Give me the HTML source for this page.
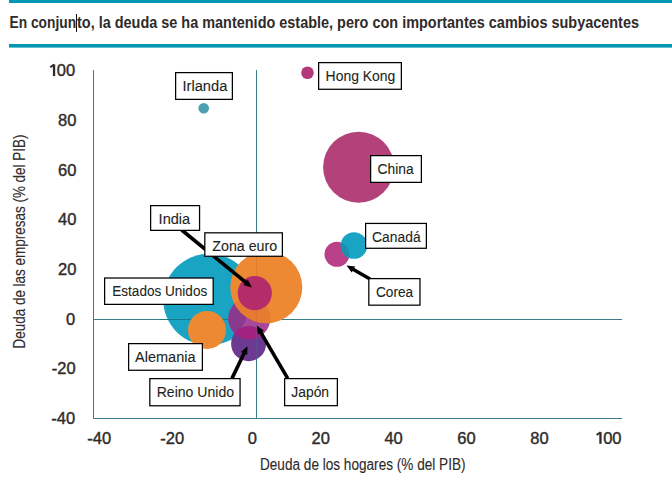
<!DOCTYPE html>
<html><head><meta charset="utf-8"><style>
html,body{margin:0;padding:0;background:#fff;width:672px;height:481px;overflow:hidden}
svg{display:block;font-family:"Liberation Sans", sans-serif}
</style></head><body>
<svg width="672" height="481" viewBox="0 0 672 481">
<rect x="9" y="0" width="663" height="3" fill="#0098b2"/>
<rect x="9" y="44" width="663" height="3.6" fill="#0098b2"/>
<text x="9.5" y="27.7" font-size="17" font-weight="bold" fill="#2f2b2a" textLength="66.6" lengthAdjust="spacingAndGlyphs">En conjun</text>
<text x="77.0" y="27.7" font-size="17" font-weight="bold" fill="#2f2b2a" textLength="562" lengthAdjust="spacingAndGlyphs">to, la deuda se ha mantenido estable, pero con importantes cambios subyacentes</text>
<rect x="76" y="14" width="1" height="18" fill="#111"/>
<g stroke="#3b7d88" stroke-width="1" fill="none" shape-rendering="crispEdges"><line x1="93.5" y1="70" x2="93.5" y2="419"/><line x1="93" y1="418.5" x2="622" y2="418.5"/><line x1="93" y1="319.5" x2="622" y2="319.5"/><line x1="256.5" y1="70" x2="256.5" y2="419"/></g>
<text x="75.1" y="76.10" font-size="16.5" fill="#2f2b2a" stroke="#2f2b2a" stroke-width="0.4" text-anchor="end">00</text>
<rect x="52.90" y="64.40" width="2.3" height="11.7" fill="#2f2b2a"/>
<line x1="50.20" y1="67.30" x2="54.10" y2="64.60" stroke="#2f2b2a" stroke-width="2"/>
<text x="76.4" y="125.80" font-size="16.5" fill="#2f2b2a" stroke="#2f2b2a" stroke-width="0.4" text-anchor="end">80</text>
<text x="76.4" y="175.50" font-size="16.5" fill="#2f2b2a" stroke="#2f2b2a" stroke-width="0.4" text-anchor="end">60</text>
<text x="76.4" y="225.20" font-size="16.5" fill="#2f2b2a" stroke="#2f2b2a" stroke-width="0.4" text-anchor="end">40</text>
<text x="76.4" y="274.90" font-size="16.5" fill="#2f2b2a" stroke="#2f2b2a" stroke-width="0.4" text-anchor="end">20</text>
<text x="75.1" y="324.60" font-size="16.5" fill="#2f2b2a" stroke="#2f2b2a" stroke-width="0.4" text-anchor="end">0</text>
<text x="75.6" y="374.30" font-size="16.5" fill="#2f2b2a" stroke="#2f2b2a" stroke-width="0.4" text-anchor="end">-20</text>
<text x="75.1" y="424.00" font-size="16.5" fill="#2f2b2a" stroke="#2f2b2a" stroke-width="0.4" text-anchor="end">-40</text>
<text x="111.20" y="443.8" font-size="16.5" fill="#2f2b2a" stroke="#2f2b2a" stroke-width="0.4" text-anchor="end">-40</text>
<text x="184.10" y="443.8" font-size="16.5" fill="#2f2b2a" stroke="#2f2b2a" stroke-width="0.4" text-anchor="end">-20</text>
<text x="257.00" y="443.8" font-size="16.5" fill="#2f2b2a" stroke="#2f2b2a" stroke-width="0.4" text-anchor="end">0</text>
<text x="329.90" y="443.8" font-size="16.5" fill="#2f2b2a" stroke="#2f2b2a" stroke-width="0.4" text-anchor="end">20</text>
<text x="402.80" y="443.8" font-size="16.5" fill="#2f2b2a" stroke="#2f2b2a" stroke-width="0.4" text-anchor="end">40</text>
<text x="475.70" y="443.8" font-size="16.5" fill="#2f2b2a" stroke="#2f2b2a" stroke-width="0.4" text-anchor="end">60</text>
<text x="548.60" y="443.8" font-size="16.5" fill="#2f2b2a" stroke="#2f2b2a" stroke-width="0.4" text-anchor="end">80</text>
<text x="621.50" y="443.8" font-size="16.5" fill="#2f2b2a" stroke="#2f2b2a" stroke-width="0.4" text-anchor="end">00</text>
<rect x="599.30" y="432.10" width="2.3" height="11.7" fill="#2f2b2a"/>
<line x1="596.60" y1="435.00" x2="600.50" y2="432.30" stroke="#2f2b2a" stroke-width="2"/>
<text x="260" y="469.6" font-size="15.8" fill="#2f2b2a" stroke="#2f2b2a" stroke-width="0.12" textLength="205.5" lengthAdjust="spacingAndGlyphs">Deuda de los hogares (% del PIB)</text>
<text transform="translate(25,348.5) rotate(-90)" x="0" y="0" font-size="15.8" fill="#2f2b2a" stroke="#2f2b2a" stroke-width="0.12" textLength="214" lengthAdjust="spacingAndGlyphs">Deuda de las empresas (% del PIB)</text>
<circle cx="203.7" cy="108.2" r="5.3" fill="#4ba0b2" fill-opacity="1"/>
<circle cx="307.5" cy="72.7" r="6.3" fill="#b23a7a" fill-opacity="1"/>
<circle cx="358.6" cy="167.2" r="35.5" fill="#b3427a" fill-opacity="1"/>
<circle cx="337" cy="254.3" r="12.5" fill="#b8418a" fill-opacity="1"/>
<circle cx="354" cy="245.5" r="13.3" fill="#1aa4c4" fill-opacity="1"/>
<circle cx="209" cy="299.5" r="45.8" fill="#1aa4c4" fill-opacity="1"/>
<defs><clipPath id="cKO"><circle cx="337" cy="254.3" r="12.5"/></clipPath></defs>
<circle cx="354" cy="245.5" r="13.3" fill="#1d8fae" clip-path="url(#cKO)"/>
<line x1="160" y1="319.5" x2="232" y2="319.5" stroke="#17788c" stroke-width="1" shape-rendering="crispEdges"/>
<defs><clipPath id="cUS"><circle cx="205" cy="301" r="45"/></clipPath><clipPath id="cRU"><circle cx="248.6" cy="343.7" r="17.5"/></clipPath><clipPath id="cJP"><circle cx="249.3" cy="318.5" r="21"/></clipPath></defs>
<circle cx="249.3" cy="318.5" r="21" fill="#a8489a"/>
<circle cx="249.3" cy="318.5" r="21" fill="#8a3a8d" clip-path="url(#cUS)"/>
<circle cx="266.3" cy="287.2" r="36" fill="#ee8933"/>
<circle cx="249.3" cy="318.5" r="21" fill="#d8652e" fill-opacity="0.35" clip-path="url(#cZE)"/>
<defs><clipPath id="cZE"><circle cx="266.3" cy="287.2" r="36"/></clipPath></defs>
<line x1="256.5" y1="256" x2="256.5" y2="322" stroke="#c96a2a" stroke-width="1" stroke-opacity="0.4" shape-rendering="crispEdges"/>
<circle cx="207" cy="330" r="19" fill="#ee8933"/>
<circle cx="254.8" cy="293.1" r="17.1" fill="#b52c6a"/>
<circle cx="248.6" cy="343.7" r="17.5" fill="#6d3a93"/>
<circle cx="249.3" cy="318.5" r="21" fill="#a2237f" clip-path="url(#cRU)"/>
<line x1="256.5" y1="326" x2="256.5" y2="362" stroke="#3b7d88" stroke-width="1" stroke-opacity="0.25" shape-rendering="crispEdges"/>
<line x1="181.7" y1="230" x2="246.38" y2="282.97" stroke="#000" stroke-width="3.6"/>
<polygon points="251.8,287.4 243.39,285.04 247.83,279.62" fill="#000"/>
<line x1="370" y1="279" x2="352.57" y2="268.99" stroke="#000" stroke-width="3.6"/>
<polygon points="346.5,265.5 355.18,266.45 351.69,272.52" fill="#000"/>
<line x1="232" y1="378.4" x2="244.46" y2="352.51" stroke="#000" stroke-width="3.6"/>
<polygon points="247.5,346.2 247.18,354.93 240.88,351.89" fill="#000"/>
<line x1="287.7" y1="378.4" x2="260.34" y2="331.64" stroke="#000" stroke-width="3.6"/>
<polygon points="256.8,325.6 263.86,330.74 257.82,334.27" fill="#000"/>
<rect x="175.62" y="72.62" width="56.75" height="26.75" fill="#fff" stroke="#000" stroke-width="1.25"/>
<text x="182.50" y="90.7" font-size="15.2" fill="#231f20" stroke="#231f20" stroke-width="0.1" textLength="44.80" lengthAdjust="spacingAndGlyphs">Irlanda</text>
<rect x="318.62" y="62.62" width="82.75" height="26.65" fill="#fff" stroke="#000" stroke-width="1.25"/>
<text x="325.60" y="81.0" font-size="15.2" fill="#231f20" stroke="#231f20" stroke-width="0.1" textLength="69.70" lengthAdjust="spacingAndGlyphs">Hong Kong</text>
<rect x="370.62" y="155.62" width="50.75" height="26.75" fill="#fff" stroke="#000" stroke-width="1.25"/>
<text x="377.60" y="173.8" font-size="15.2" fill="#231f20" stroke="#231f20" stroke-width="0.1" textLength="36.10" lengthAdjust="spacingAndGlyphs">China</text>
<rect x="365.62" y="223.43" width="60.75" height="24.85" fill="#fff" stroke="#000" stroke-width="1.25"/>
<text x="372.10" y="241.8" font-size="15.2" fill="#231f20" stroke="#231f20" stroke-width="0.1" textLength="48.50" lengthAdjust="spacingAndGlyphs">Canadá</text>
<rect x="368.82" y="278.62" width="51.15" height="26.55" fill="#fff" stroke="#000" stroke-width="1.25"/>
<text x="376.00" y="296.9" font-size="15.2" fill="#231f20" stroke="#231f20" stroke-width="0.1" textLength="37.20" lengthAdjust="spacingAndGlyphs">Corea</text>
<rect x="150.62" y="205.62" width="48.95" height="24.75" fill="#fff" stroke="#000" stroke-width="1.25"/>
<text x="158.60" y="223.7" font-size="15.2" fill="#231f20" stroke="#231f20" stroke-width="0.1" textLength="31.60" lengthAdjust="spacingAndGlyphs">India</text>
<rect x="204.82" y="232.82" width="77.55" height="23.45" fill="#fff" stroke="#000" stroke-width="1.25"/>
<text x="212.30" y="250.6" font-size="15.2" fill="#231f20" stroke="#231f20" stroke-width="0.1" textLength="64.90" lengthAdjust="spacingAndGlyphs">Zona euro</text>
<rect x="104.62" y="278.02" width="108.55" height="26.35" fill="#fff" stroke="#000" stroke-width="1.25"/>
<text x="112.30" y="295.9" font-size="15.2" fill="#231f20" stroke="#231f20" stroke-width="0.1" textLength="94.90" lengthAdjust="spacingAndGlyphs">Estados Unidos</text>
<rect x="128.62" y="343.62" width="73.75" height="26.65" fill="#fff" stroke="#000" stroke-width="1.25"/>
<text x="135.00" y="361.7" font-size="15.2" fill="#231f20" stroke="#231f20" stroke-width="0.1" textLength="60.50" lengthAdjust="spacingAndGlyphs">Alemania</text>
<rect x="149.82" y="378.62" width="90.25" height="27.15" fill="#fff" stroke="#000" stroke-width="1.25"/>
<text x="156.70" y="396.7" font-size="15.2" fill="#231f20" stroke="#231f20" stroke-width="0.1" textLength="77.40" lengthAdjust="spacingAndGlyphs">Reino Unido</text>
<rect x="284.62" y="378.62" width="52.75" height="27.05" fill="#fff" stroke="#000" stroke-width="1.25"/>
<text x="291.30" y="396.6" font-size="15.2" fill="#231f20" stroke="#231f20" stroke-width="0.1" textLength="37.80" lengthAdjust="spacingAndGlyphs">Japón</text>
</svg></body></html>
